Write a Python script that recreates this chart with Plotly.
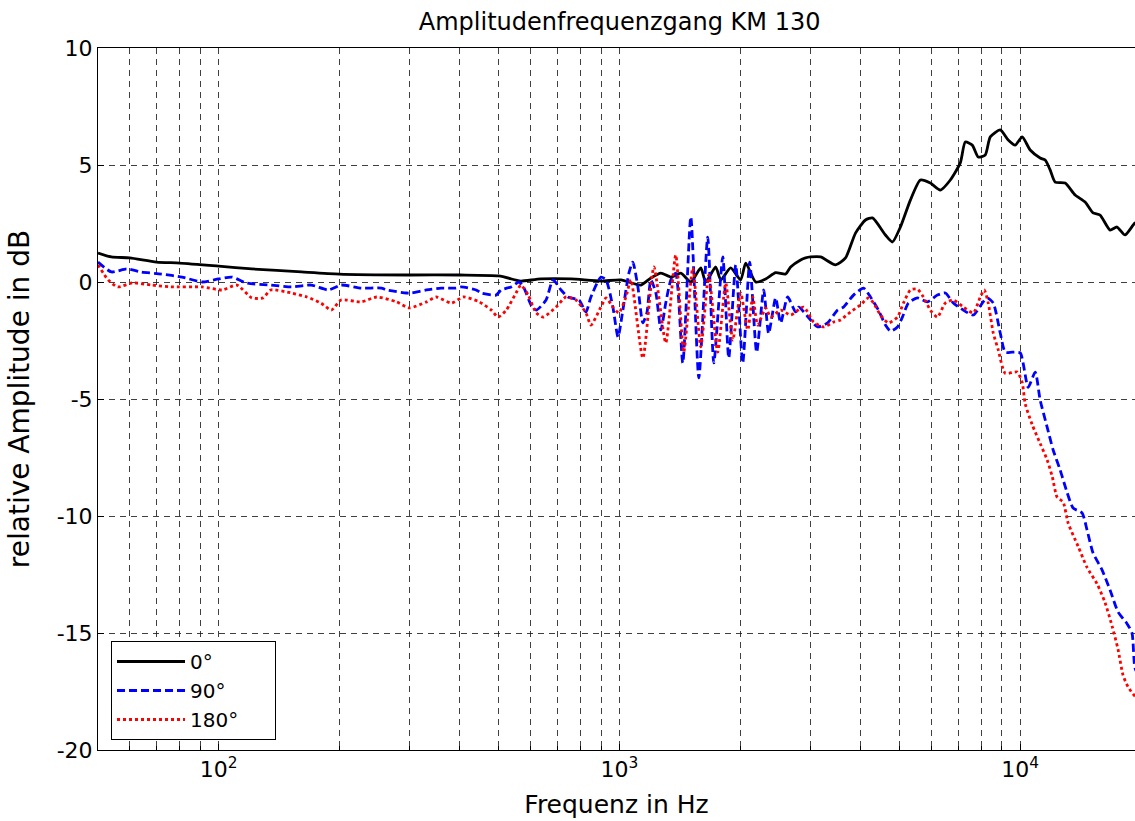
import math
import plotly.graph_objects as go

# ---- data ----
freq_0 = [50, 54, 60, 70, 80, 100, 121, 161, 200, 300, 400, 500, 552, 568, 637, 757, 899, 1009, 1131, 1198,
          1269, 1344, 1423, 1507, 1596, 1642, 1739, 1790, 1895, 2007, 2066, 2188, 2317, 2454, 2598, 2674, 2832,
          2914, 2999, 3177, 3462, 3666, 3882, 4111, 4280, 4611, 4800, 5025, 5321, 5636, 5967, 6319, 6694, 7088,
          7295, 7593, 7859, 8181, 8420, 8917, 9335, 9716, 10115, 10590, 11214, 11542, 11877, 12223, 12944,
          13709, 14518, 15199, 15822, 16758, 17436, 18262, 19340, 20000]
db_0 = [1.24, 1.07, 1.03, 0.85, 0.81, 0.68, 0.56, 0.43, 0.34, 0.30, 0.30, 0.26, 0.08, 0.04, 0.13, 0.13, 0.04,
        0.09, -0.13, 0.17, 0.38, 0.21, 0.38, 0.0, 0.60, 0.0, 0.64, 0.09, 0.60, 0.09, 0.81, 0.0, 0.13, 0.40, 0.34,
        0.64, 0.94, 1.03, 1.07, 1.07, 0.73, 1.03, 2.09, 2.65, 2.74, 2.01, 1.71, 2.35, 3.50, 4.36, 4.23, 3.93,
        4.36, 5.09, 5.98, 5.85, 5.34, 5.43, 6.20, 6.50, 6.07, 5.85, 6.20, 5.64, 5.30, 5.21, 4.79, 4.27, 4.23,
        3.72, 3.42, 2.95, 2.86, 2.22, 2.35, 2.01, 2.52, 2.6]

freq_90 = [50, 54, 59, 64, 72, 81, 91, 100, 108, 117, 135, 152, 170, 188, 202, 227, 255, 262, 294, 303, 330,
           359, 391, 403, 439, 452, 492, 507, 537, 562, 578, 602, 620, 656, 683, 715, 744, 793, 825, 849, 899,
           926, 963, 992, 1020, 1056, 1080, 1112, 1144, 1171, 1198, 1233, 1269, 1305, 1344, 1382, 1439, 1507,
           1578, 1661, 1720, 1811, 1874, 1951, 2031, 2114, 2200, 2291, 2357, 2454, 2525, 2629, 2752, 2800,
           2999, 3122, 3306, 3501, 3624, 3838, 4064, 4231, 4429, 4611, 4745, 4940, 5083, 5260, 5541, 5868,
           6214, 6505, 6810, 7211, 7637, 8043, 8276, 8567, 8917, 9176, 9552, 10000, 10470, 10900, 11214,
           11674, 12085, 12580, 13096, 13552, 14269, 14685, 15199, 16003, 16758, 17545, 18474, 19011, 19340,
           20000]
db_90 = [0.85, 0.43, 0.56, 0.43, 0.34, 0.21, 0.0, 0.13, 0.21, -0.04, -0.13, -0.21, -0.13, -0.34, -0.13,
         -0.26, -0.26, -0.34, -0.47, -0.47, -0.34, -0.26, -0.26, -0.21, -0.34, -0.47, -0.56, -0.34, -0.21, 0.0,
         -0.26, -0.98, -1.2, -0.77, 0.09, -0.34, -0.64, -0.77, -1.28, -0.64, 0.21, 0.09, -1.07, -2.35, -1.2,
         0.38, 0.85, -0.21, -1.75, -1.32, 0.09, -0.47, -2.05, -0.9, 0.09, 0.38, -3.46, 2.78, -4.1, 1.92,
         -3.46, 1.07, -3.25, 0.73, -3.46, 0.85, -3.0, -0.34, -2.2, -0.68, -1.75, -0.64, -1.28, -1.07, -1.62,
         -1.92, -1.75, -1.2, -1.07, -0.56, -0.26, -0.64, -1.2, -1.84, -2.1, -1.92, -1.5, -0.9, -0.68, -0.85,
         -0.56, -0.47, -0.9, -1.2, -1.41, -0.9, -0.68, -0.9, -2.18, -3.0, -3.0, -3.03, -4.5, -3.85, -5.04,
         -6.2, -7.18, -8.03, -9.0, -9.66, -9.87, -10.6, -11.58, -12.3, -13.16, -14.1, -14.6, -15.0, -16.5,
         -17.0]

freq_180 = [50, 53, 56, 61, 68, 76, 91, 102, 111, 121, 129, 135, 152, 166, 180, 191, 202, 227, 248, 278, 299,
            330, 349, 381, 408, 447, 479, 498, 522, 552, 568, 592, 620, 645, 695, 736, 779, 825, 849, 899, 926,
            963, 997, 1038, 1068, 1144, 1219, 1305, 1382, 1447, 1524, 1596, 1671, 1759, 1842, 1918, 2007, 2090,
            2151, 2213, 2317, 2384, 2525, 2674, 2881, 3051, 3231, 3422, 3562, 3773, 3995, 4182, 4305, 4481,
            4691, 4940, 5113, 5321, 5541, 5733, 5967, 6214, 6505, 6810, 7211, 7637, 7951, 8135, 8323, 8567,
            8815, 9176, 9829, 10115, 10292, 10714, 11214, 11674, 12016, 12366, 12796, 13170, 13950, 14685,
            15555, 16282, 16952, 17545, 18053, 18580, 19340, 20000]
db_180 = [0.73, 0.09, -0.21, -0.04, -0.13, -0.21, -0.21, -0.34, -0.13, -0.68, -0.68, -0.34, -0.47, -0.64,
          -0.9, -1.2, -0.77, -0.85, -0.64, -0.85, -1.11, -0.85, -0.64, -0.9, -0.64, -0.85, -1.2, -1.5, -1.2,
          -0.47, -0.13, -0.56, -1.32, -1.5, -1.07, -0.64, -0.77, -1.32, -1.84, -1.07, -0.68, -1.07, -1.32,
          -0.64, 0.09, -3.25, 0.64, -2.6, 1.15, -3.0, 0.6, -2.77, 0.3, -3.0, -0.04, -2.48, -0.47, -2.05, -0.64,
          -1.84, -1.11, -1.5, -1.2, -1.41, -1.07, -1.71, -1.92, -1.71, -1.62, -1.28, -0.98, -0.68, -0.9, -1.41,
          -1.75, -1.5, -0.9, -0.34, -0.3, -0.64, -1.2, -1.5, -0.9, -0.77, -1.07, -1.32, -0.64, -0.34, -0.9,
          -2.18, -2.9, -3.9, -3.85, -4.3, -5.2, -6.1, -6.9, -7.6, -8.3, -9.2, -9.4, -10.3, -11.3, -12.2, -12.9,
          -13.7, -14.7, -15.7, -16.8, -17.3, -17.7, -17.8]

series_names = ["0°", "90°", "180°"]
x_major = [100, 1000, 10000]
x_major_text = ["10<sup>2</sup>", "10<sup>3</sup>", "10<sup>4</sup>"]
x_minor = [50, 60, 70, 80, 90, 200, 300, 400, 500, 600, 700, 800, 900,
           2000, 3000, 4000, 5000, 6000, 7000, 8000, 9000, 20000]
y_ticks = [-20, -15, -10, -5, 0, 5, 10]
y_tick_text = ["-20", "-15", "-10", "-5", "0", "5", "10"]

title = "Amplitudenfrequenzgang KM 130"
xlabel = "Frequenz in Hz"
ylabel = "relative Amplitude in dB"

FONT = "DejaVu Sans, Verdana, sans-serif"
GRID = "rgba(30,30,30,0.85)"
PAD = "\u00a0" * 5  # widen the legend box to the reference's width

fig = go.Figure()
fig.add_trace(go.Scatter(x=freq_0, y=db_0, name=series_names[0] + PAD, mode="lines",
                         line=dict(color="black", width=2.8, shape="spline", smoothing=0.6)))
fig.add_trace(go.Scatter(x=freq_90, y=db_90, name=series_names[1] + PAD, mode="lines",
                         line=dict(color="#0000ff", width=2.8, dash="8px,4px", shape="spline", smoothing=0.6)))
fig.add_trace(go.Scatter(x=freq_180, y=db_180, name=series_names[2] + PAD, mode="lines",
                         line=dict(color="#ff0000", width=2.8, dash="3px,3px", shape="spline", smoothing=0.6)))

W, H = 1135, 821
L, T, B = 98, 48, 71
fig.update_layout(
    width=W, height=H,
    margin=dict(l=L, r=0, t=T, b=B),
    paper_bgcolor="white", plot_bgcolor="white",
    font=dict(family=FONT, color="black", size=20),
    title=dict(text=title, xref="paper", x=0.503, xanchor="center", y=1 - 22 / H, yanchor="middle",
               font=dict(size=24, family=FONT)),
    showlegend=True,
    legend=dict(x=13 / (W - L), y=10 / (H - T - B), xanchor="left", yanchor="bottom",
                bgcolor="white", bordercolor="black", borderwidth=1,
                font=dict(size=20, family=FONT), tracegroupgap=0, itemwidth=68),
)
fig.update_xaxes(
    type="log", range=[math.log10(50), math.log10(19340)],
    tickmode="array", tickvals=x_major, ticktext=x_major_text,
    ticks="inside", ticklen=6, tickcolor="black",
    showline=True, linecolor="black", linewidth=1, mirror=True,
    showgrid=True, gridcolor=GRID, griddash="6px,5px", gridwidth=1,
    minor=dict(tickmode="array", tickvals=x_minor, ticks="inside", ticklen=4, tickcolor="black",
               showgrid=True, gridcolor=GRID, griddash="6px,5px", gridwidth=1),
    zeroline=False,
    title=dict(text=xlabel, font=dict(size=25, family=FONT), standoff=14),
    tickfont=dict(size=22, family=FONT),
)
fig.update_yaxes(
    range=[-20, 10], tickmode="array", tickvals=y_ticks, ticktext=y_tick_text,
    ticks="inside", ticklen=6, tickcolor="black",
    showline=True, linecolor="black", linewidth=1, mirror=True,
    showgrid=True, gridcolor=GRID, griddash="6px,5px", gridwidth=1,
    zeroline=False,
    title=dict(text=ylabel, font=dict(size=28, family=FONT), standoff=18),
    tickfont=dict(size=22, family=FONT),
)

fig.write_html(
    "out.html",
    config={"displayModeBar": False},
    post_script="document.body.style.margin='0';document.documentElement.style.overflow='hidden';",
)
